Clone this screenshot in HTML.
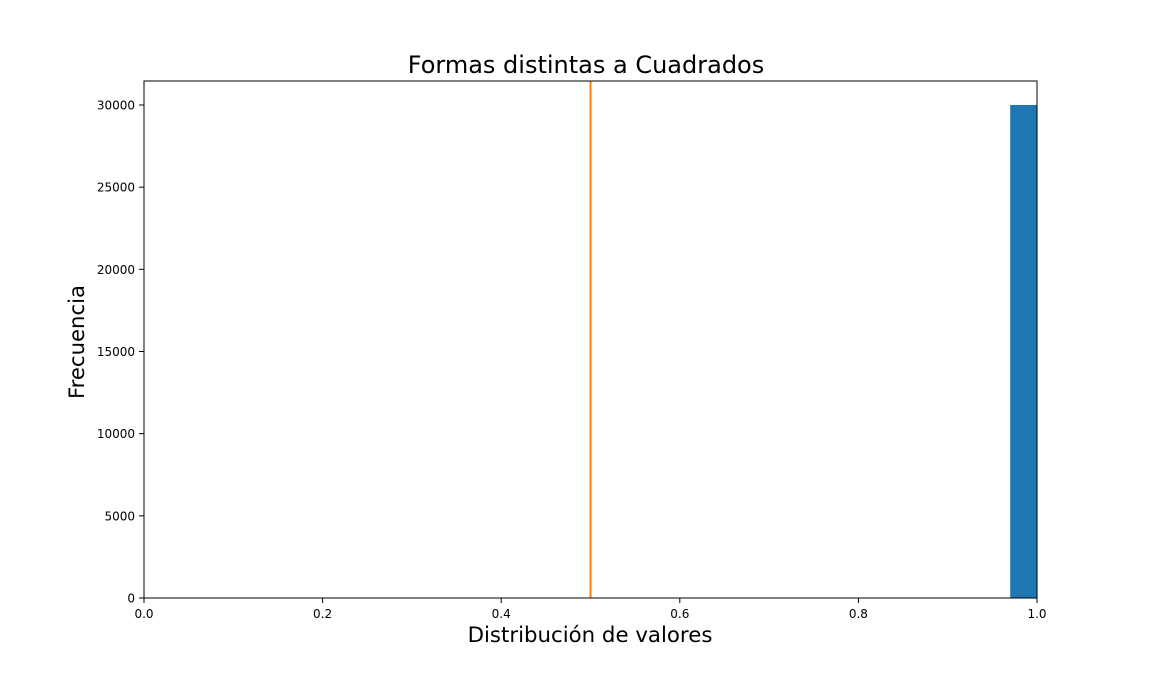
<!DOCTYPE html>
<html><head><meta charset="utf-8"><style>
body{margin:0;background:#fff}
svg text{font-family:"DejaVu Sans","Liberation Sans",sans-serif}
</style></head><body>
<svg id="chart" width="1152" height="672" xmlns="http://www.w3.org/2000/svg">
<text x="586" y="73" font-size="24" text-anchor="middle">Formas distintas a Cuadrados</text>
<text x="590" y="642" font-size="21.3" text-anchor="middle">Distribución de valores</text>
<text x="84" y="342" font-size="21.2" text-anchor="middle" transform="rotate(-90 84 342)">Frecuencia</text>
<g id="marks"></g>
<g id="axes"></g>
</svg>
<script>
const binStarts=[0.97];
const binEnds=[1.0];
const counts=[30000];
const refLineX=[0.5];
const xTicks=[0,0.2,0.4,0.6,0.8,1.0];
const xTickLabels=["0.0","0.2","0.4","0.6","0.8","1.0"];
const yTicks=[0,5000,10000,15000,20000,25000,30000];
const yTickLabels=["0","5000","10000","15000","20000","25000","30000"];
const X0=144,X1=1037,Y0=598,Y1=81,XMIN=0,XMAX=1,YMIN=0,YMAX=31460;
const sx=v=>X0+(v-XMIN)/(XMAX-XMIN)*(X1-X0);
const sy=v=>Y0-(v-YMIN)/(YMAX-YMIN)*(Y0-Y1);
const NS="http://www.w3.org/2000/svg";
const marks=document.getElementById('marks'),axes=document.getElementById('axes');
function mk(tag,attrs,parent){const e=document.createElementNS(NS,tag);for(const k in attrs)e.setAttribute(k,attrs[k]);parent.appendChild(e);return e;}
counts.forEach((c,i)=>{
 const r=mk('rect',{x:sx(binStarts[i]),y:sy(c),width:sx(binEnds[i])-sx(binStarts[i]),height:sy(0)-sy(c),fill:'#1f77b4'},marks);
 
 
});
refLineX.forEach(v=>{
 const l=mk('line',{x1:sx(v),x2:sx(v),y1:Y1,y2:Y0,stroke:'#ff7f0e','stroke-width':2},marks);
 
 
});
const fr=mk('rect',{x:X0,y:Y1,width:X1-X0,height:Y0-Y1,fill:'none',stroke:'#000','stroke-width':1},axes);


xTicks.forEach((v,i)=>{
 mk('line',{x1:sx(v),x2:sx(v),y1:Y0,y2:Y0+5,stroke:'#000'},axes);
 const t=mk('text',{x:sx(v),y:Y0+20,'font-size':12,'text-anchor':'middle'},axes);
 t.textContent=xTickLabels[i];
 
 
});
yTicks.forEach((v,i)=>{
 mk('line',{x1:X0-5,x2:X0,y1:sy(v),y2:sy(v),stroke:'#000'},axes);
 const t=mk('text',{x:X0-9,y:sy(v)+4.5,'font-size':12,'text-anchor':'end'},axes);
 t.textContent=yTickLabels[i];
 
 
});
</script>
</body></html>
